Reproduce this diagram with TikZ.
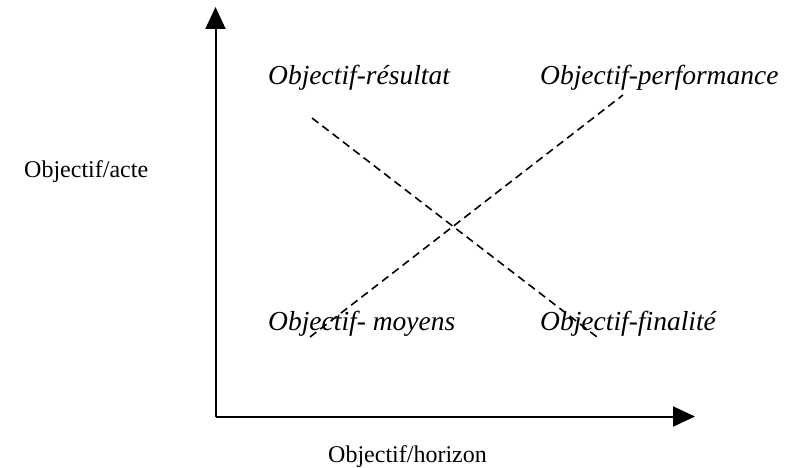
\documentclass[tikz,border=0pt]{standalone}
\usepackage{fontspec}
\setmainfont{Liberation Serif}
\usetikzlibrary{arrows.meta}
\begin{document}
\begin{tikzpicture}[x=1pt,y=-1pt,
  axis/.style={line width=2pt,-{Triangle[length=22pt,width=20pt]}},
  dline/.style={line width=1.6pt,dash pattern=on 8pt off 5pt},
  itl/.style={inner sep=0pt,anchor=base west,font=\fontsize{27.5}{33}\selectfont\itshape},
  upl/.style={inner sep=0pt,anchor=base west,font=\fontsize{24}{29}\selectfont}]
\useasboundingbox (0,0) rectangle (795,468);
\coordinate (O) at (215.5,416.5);
\coordinate (ytip) at (215.5,7);
\coordinate (xtip) at (695,416.5);
\draw[axis] (O) -- (ytip);
\draw[axis] (O) -- (xtip);
\coordinate (a1) at (312,118);
\coordinate (a2) at (597,337);
\coordinate (b1) at (310,337);
\coordinate (b2) at (623,95);
\draw[dline] (a1) -- (a2);
\draw[dline] (b1) -- (b2);
\node[itl] (res) at (268,85) {Objectif-résultat};
\node[itl] (perf) at (540,85) {Objectif-performance};
\node[itl] (moy) at (268,330) {Objectif- moyens};
\node[itl] (fin) at (540,330) {Objectif-finalité};
\node[upl] (acte) at (24,177) {Objectif/acte};
\node[upl] (hor) at (328,462) {Objectif/horizon};
\end{tikzpicture}
\end{document}
